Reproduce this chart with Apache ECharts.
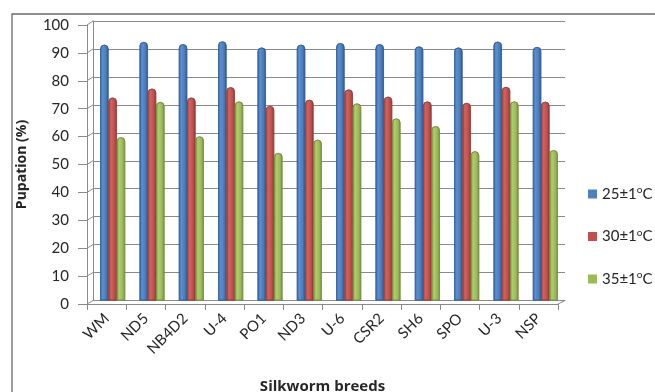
<!DOCTYPE html>
<html>
<head>
<meta charset="utf-8">
<script src="https://cdn.jsdelivr.net/npm/echarts@6/dist/echarts.min.js"></script>
<style>
  html, body { margin: 0; padding: 0; background: #fff; }
  #chart { width: 655px; height: 392px; }
</style>
</head>
<body>
<div id="chart"></div>
<script>
// ---- data ----
const categories = ['WM', 'ND5', 'NB4D2', 'U-4', 'PO1', 'ND3', 'U-6', 'CSR2', 'SH6', 'SPO', 'U-3', 'NSP'];
const seriesNames = ['25±1ºC', '30±1ºC', '35±1ºC'];
const pupation25 = [91.5, 92.5, 91.7, 92.7, 90.5, 91.5, 92.1, 91.7, 90.9, 90.5, 92.6, 90.7];
const pupation30 = [72.6, 75.8, 72.6, 76.3, 69.6, 71.8, 75.5, 72.9, 71.2, 70.7, 76.4, 71.1];
const pupation35 = [58.4, 71.0, 58.7, 71.2, 52.8, 57.5, 70.5, 65.1, 62.4, 53.4, 71.2, 53.8];
const yMin = 0, yMax = 100, yStep = 10;
const yTickValues = [0, 10, 20, 30, 40, 50, 60, 70, 80, 90, 100];
const yAxisTitle = 'Pupation (%)';
const xAxisTitle = 'Silkworm breeds';

// ---- layout / style ----
const FONT = 'Lato, "Open Sans", sans-serif';
const TFONT = '"Open Sans", Lato, sans-serif';
const TXT = '#262626';
const LINE = '#8a8a8a';
const BACK = { left: 93, top: 21, width: 472, height: 279.5 };
const FRONT = { left: 87, top: 25, width: 471, height: 279 };

function cyl(c0, c1, c2, c3) {
  return new echarts.graphic.LinearGradient(0, 0, 1, 0, [
    { offset: 0, color: c0 }, { offset: 0.3, color: c1 },
    { offset: 0.7, color: c2 }, { offset: 1, color: c3 }
  ]);
}
const solid = ['#4f81bd', '#c0504d', '#9bbb59'];
const fills = [
  cyl('#3a68a1', '#5b8fd2', '#4a7cb9', '#2d5890'),
  cyl('#a54341', '#d2625e', '#bf4f4c', '#913a38'),
  cyl('#829f47', '#aecd6c', '#9aba58', '#778f42')
];
const borders = ['#2f5a8e', '#8f3a38', '#71893f'];
const values = [pupation25, pupation30, pupation35];

const chart = echarts.init(document.getElementById('chart'), null, { renderer: 'canvas' });

const option = {
  animation: false,
  backgroundColor: '#fff',
  textStyle: { fontFamily: FONT, color: TXT },
  grid: [
    { left: BACK.left, top: BACK.top, width: BACK.width, height: BACK.height, containLabel: false, outerBoundsMode: 'none' },
    { left: FRONT.left, top: FRONT.top, width: FRONT.width, height: FRONT.height, containLabel: false, outerBoundsMode: 'none' }
  ],
  legend: {
    orient: 'vertical',
    left: 583,
    top: 180,
    itemWidth: 9,
    itemHeight: 9,
    itemGap: 26,
    icon: 'rect',
    data: seriesNames.map((n, i) => ({ name: n, itemStyle: { color: solid[i], borderWidth: 0 } })),
    formatter: function (name) {
      return name.split('º').map(s => '{t|' + s + '}').join('{s|o}');
    },
    textStyle: {
      rich: {
        t: { fontFamily: FONT, fontSize: 15, color: TXT, lineHeight: 18 },
        s: { fontFamily: FONT, fontSize: 10, color: TXT, lineHeight: 10, verticalAlign: 'top' }
      }
    }
  },
  xAxis: [
    {
      type: 'category', gridIndex: 0, data: categories,
      axisLine: { show: true, lineStyle: { color: LINE } },
      axisTick: { show: false }, axisLabel: { show: false }, splitLine: { show: false }
    },
    {
      type: 'category', gridIndex: 1, data: categories,
      boundaryGap: true,
      axisLine: { show: true, lineStyle: { color: LINE } },
      axisTick: { show: true, length: 6, lineStyle: { color: LINE } },
      axisLabel: { rotate: 45, margin: 12, fontSize: 15, fontFamily: FONT, color: TXT, interval: 0 },
      name: xAxisTitle, nameLocation: 'middle', nameGap: 75,
      nameTextStyle: { fontFamily: TFONT, fontSize: 15, fontWeight: 'bold', color: TXT }
    }
  ],
  yAxis: [
    {
      type: 'value', gridIndex: 0, min: yMin, max: yMax, interval: yStep,
      axisLine: { show: true, lineStyle: { color: LINE } },
      axisTick: { show: false }, axisLabel: { show: false },
      splitLine: { show: true, lineStyle: { color: LINE, width: 1 } }
    },
    {
      type: 'value', gridIndex: 1, min: yMin, max: yMax, interval: yStep,
      axisLine: { show: true, lineStyle: { color: LINE } },
      axisTick: { show: true, length: 9, lineStyle: { color: LINE } },
      axisLabel: { margin: 18, fontSize: 15, fontFamily: FONT, color: TXT, padding: [4, 0, 0, 0] },
      splitLine: { show: false },
      name: yAxisTitle, nameLocation: 'middle', nameRotate: 90, nameGap: 58,
      nameTextStyle: { fontFamily: TFONT, fontSize: 14, fontWeight: 'bold', color: TXT }
    }
  ],
  series: seriesNames.map((n, i) => ({
    name: n,
    type: 'bar',
    xAxisIndex: 0,
    yAxisIndex: 0,
    data: values[i],
    barWidth: 8.3,
    barGap: '0%',
    itemStyle: {
      color: fills[i],
      borderColor: borders[i],
      borderWidth: 0.6,
      borderRadius: [4, 4, 0, 0]
    }
  }))
};
chart.setOption(option);

// 3D-style connectors between front axis and back wall, derived from the axis scales
const g = [];
const fr = FRONT.left, bl = BACK.left;
yTickValues.forEach(v => {
  const yf = chart.convertToPixel({ yAxisIndex: 1 }, v);
  const yb = chart.convertToPixel({ yAxisIndex: 0 }, v);
  g.push({ type: 'line', shape: { x1: fr, y1: yf, x2: bl, y2: yb }, style: { stroke: LINE, lineWidth: 1 } });
});
const yf0 = chart.convertToPixel({ yAxisIndex: 1 }, yMin);
const yb0 = chart.convertToPixel({ yAxisIndex: 0 }, yMin);
g.push({ type: 'line', shape: { x1: FRONT.left + FRONT.width, y1: yf0, x2: BACK.left + BACK.width, y2: yb0 }, style: { stroke: LINE, lineWidth: 1 } });
// outer chart frame
g.push({ type: 'rect', shape: { x: 12, y: 14, width: 700, height: 450 }, style: { fill: 'none', stroke: '#6a6a6a', lineWidth: 1.3 }, z: -1 });
chart.setOption({ graphic: g });
</script>
</body>
</html>
